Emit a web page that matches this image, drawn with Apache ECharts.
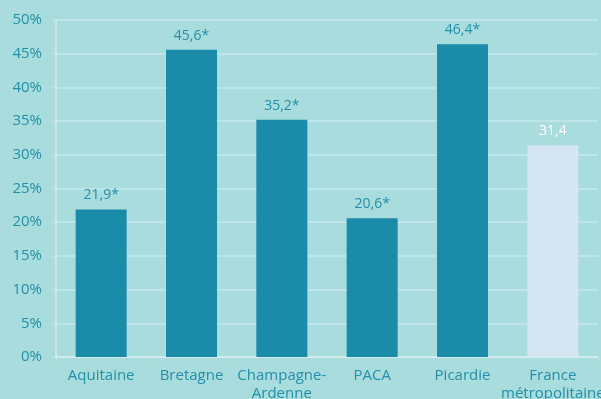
<!DOCTYPE html>
<html><head><meta charset="utf-8">
<script src="https://cdn.jsdelivr.net/npm/echarts@6/dist/echarts.min.js"></script>
<style>html,body{margin:0;padding:0;background:#a8dcdd;}#c{width:601px;height:399px;}</style>
</head><body><div id="c"></div>
<script>
const categories = ["Aquitaine", "Bretagne", "Champagne-\nArdenne", "PACA", "Picardie", "France\nmétropolitaine"];
const values = [21.9, 45.6, 35.2, 20.6, 46.4, 31.4];
const valueLabels = ["21,9*", "45,6*", "35,2*", "20,6*", "46,4*", "31,4"];
const yTicks = [0, 5, 10, 15, 20, 25, 30, 35, 40, 45, 50];

const teal = "#1a8ba8", light = "#d4e6f2", txt = "#2290a9";
const chart = echarts.init(document.getElementById('c'));
chart.setOption({
  backgroundColor: "#a8dcdd",
  animation: false,
  grid: {left: 56, right: 3, top: 20, bottom: 42, containLabel: false, outerBoundsMode: 'none'},
  xAxis: {
    type: 'category', data: categories,
    axisLine: {lineStyle: {color: "#d6eef0", width: 1.5}},
    axisTick: {show: true, lineStyle: {color: "#c4e6e8"}, length: 4},
    axisLabel: {color: txt, fontSize: 15, fontFamily: "Open Sans", lineHeight: 18, margin: 10, interval: 0}
  },
  yAxis: {
    type: 'value', min: 0, max: 50, interval: 5,
    axisLine: {show: true, lineStyle: {color: "#d6eef0", width: 1.5}},
    axisTick: {show: true, length: 4, lineStyle: {color: "#c4e6e8"}},
    splitLine: {lineStyle: {color: "#c6e8ec", width: 1.5}},
    axisLabel: {color: txt, fontSize: 15, fontFamily: "Open Sans", margin: 14,
      formatter: v => yTicks.includes(v) ? v + "%" : ""}
  },
  series: [{
    type: 'bar', barWidth: 51,
    data: values.map((v, i) => ({
      value: v,
      itemStyle: {color: i === 5 ? light : teal},
      label: {show: true, position: 'top', distance: 7, formatter: valueLabels[i],
        color: i === 5 ? "#ffffff" : txt, fontSize: 14, fontFamily: "Open Sans"}
    }))
  }]
});
</script></body></html>
